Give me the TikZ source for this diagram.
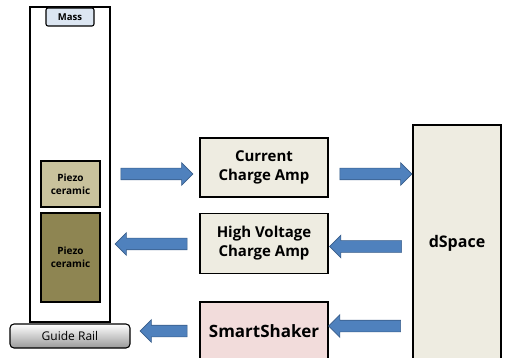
\documentclass[tikz,border=0pt]{standalone}
\usepackage{fontspec}
\setmainfont{Open Sans}
\usetikzlibrary{shapes.arrows}
\definecolor{boxfill}{HTML}{EEECE1}
\definecolor{shakerfill}{HTML}{F2DCDB}
\definecolor{piezoA}{HTML}{C9C29D}
\definecolor{piezoB}{HTML}{8E8552}
\definecolor{massfill}{HTML}{DCE6F2}
\definecolor{arrowfill}{HTML}{4F81BD}
\definecolor{arrowline}{HTML}{385D8A}
\tikzset{
  blockbox/.style={draw=black, line width=1.3pt, fill=boxfill, align=center, font=\bfseries\fontsize{15}{19}\selectfont, inner sep=0pt},
  piezobox/.style={draw=black, line width=1.2pt, align=center, font=\bfseries\fontsize{10}{13}\selectfont, inner sep=0pt, minimum width=59pt},
  bigarrow/.style={single arrow, draw=arrowline, line width=0.6pt, fill=arrowfill, inner sep=0pt, minimum height=72pt, minimum width=22pt, single arrow head extend=5.5pt, text height=11pt, text depth=0pt, text width=0pt},
  leftarrow/.style={bigarrow, shape border rotate=180}
}
\begin{document}
\begin{tikzpicture}[x=1pt,y=-1pt]
\useasboundingbox (0,0) rectangle (506,358);
\clip (0,0) rectangle (506,358);
\fill[white] (0,0) rectangle (506,358);
% left frame
\node[draw=black, line width=1.3pt, minimum width=80pt, minimum height=315pt, inner sep=0pt] (frame) at (70,164.5) {};
\node[draw=black, line width=1.1pt, rounded corners=2pt, fill=massfill, minimum width=48pt, minimum height=18pt, inner sep=0pt, font=\bfseries\fontsize{9.5}{10}\selectfont] (mass) at (70,17) {Mass};
\node[piezobox, fill=piezoA, minimum height=46pt] (p1) at (70.5,184) {Piezo\\ceramic};
\node[piezobox, fill=piezoB, minimum height=89pt] (p2) at (70.5,257.5) {Piezo\\ceramic};
\node[draw=black, line width=1.1pt, rounded corners=4pt, top color=white, bottom color=black!40, minimum width=120pt, minimum height=24pt, inner sep=0pt, font=\fontsize{12}{14}\selectfont] (rail) at (70,336) {Guide Rail};
% middle boxes
\node[blockbox, minimum width=128pt, minimum height=59pt] (cca) at (264,167.5) {Current\\Charge Amp};
\node[blockbox, minimum width=128pt, minimum height=60pt] (hv) at (264,243.5) {High Voltage\\Charge Amp};
\node[blockbox, fill=shakerfill, minimum width=128pt, minimum height=58pt, font=\bfseries\fontsize{17}{20}\selectfont] (ss) at (264,331) {SmartShaker};
% dSpace
\node[blockbox, minimum width=88pt, minimum height=236pt, font=\bfseries\fontsize{16}{19}\selectfont] (ds) at (457,243) {dSpace};
% arrows
\node[bigarrow] (a1) at (154,174) {};
\node[bigarrow] (a2) at (373,174) {};
\node[leftarrow] (a3) at (154,244) {};
\node[leftarrow] (a4) at (368.5,246.5) {};
\node[leftarrow, minimum height=47pt] (a5) at (166.5,331) {};
\node[leftarrow] (a6) at (367.5,326) {};
\end{tikzpicture}
\end{document}
